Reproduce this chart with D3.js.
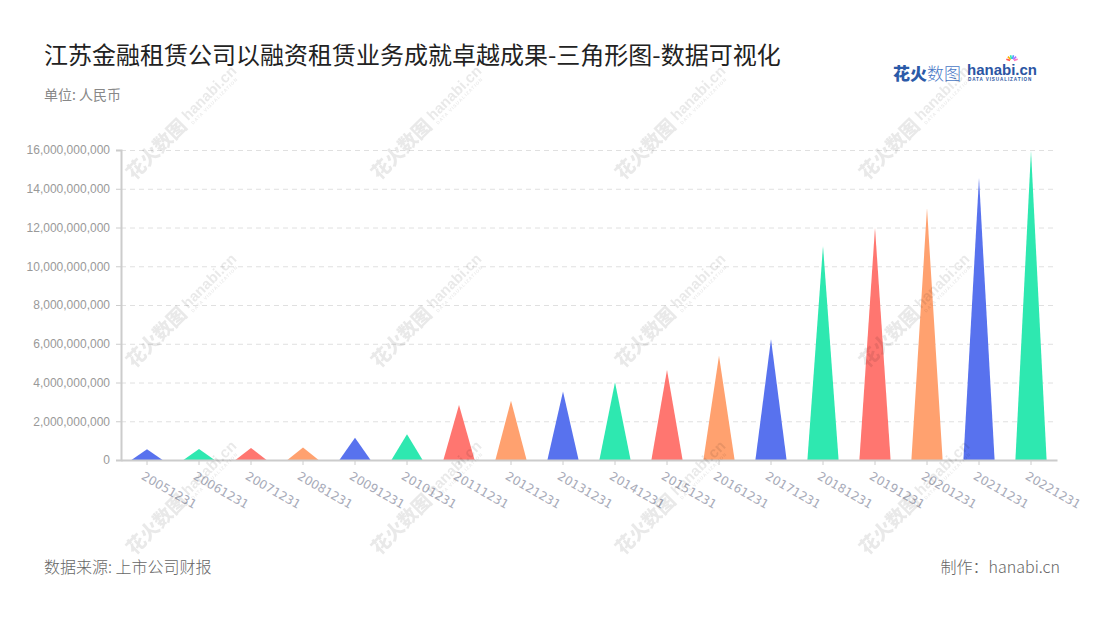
<!DOCTYPE html>
<html><head><meta charset="utf-8">
<script src="https://cdn.jsdelivr.net/npm/d3@7/dist/d3.min.js"></script>
<style>body{margin:0;background:#fff}svg{display:block}</style>
</head><body><svg id="c" width="1100" height="620"></svg>
<script>
const categories = ["20051231","20061231","20071231","20081231","20091231","20101231","20111231","20121231","20131231","20141231","20151231","20161231","20171231","20181231","20191231","20201231","20211231","20221231"];
const values = [550000000,570000000,620000000,650000000,1150000000,1330000000,2840000000,3060000000,3530000000,4010000000,4650000000,5380000000,6230000000,11050000000,11990000000,12990000000,14570000000,15960000000];
const yTicks = [0,2000000000,4000000000,6000000000,8000000000,10000000000,12000000000,14000000000,16000000000];
const palette = ["#5872ee","#2ee8b0","#ff7670","#ffa16f"];
const titleText = "江苏金融租赁公司以融资租赁业务成就卓越成果-三角形图-数据可视化";
const unitText = "单位: 人民币";
const sourceText = "数据来源: 上市公司财报";
const makerText = "制作：hanabi.cn";

const svg = d3.select("#c");
const L = 121, R = 1057, T = 150, B = 460;
const x = d3.scaleBand().domain(categories).range([L, R]);
const y = d3.scaleLinear().domain([0, 16000000000]).range([B, T]);

// title
svg.append("text").attr("x",44).attr("y",64).attr("font-family","'Noto Sans CJK SC'").attr("font-size",24).attr("fill","#222").text(titleText);
svg.append("text").attr("x",44).attr("y",100).attr("font-family","'Noto Sans CJK SC'").attr("font-size",14).attr("fill","#888").text(unitText);

// grid
svg.append("g").selectAll("line").data(yTicks.slice(1)).join("line")
  .attr("x1",L).attr("x2",R).attr("y1",d=>y(d)+0.5).attr("y2",d=>y(d)+0.5)
  .attr("stroke","#e0e0e0").attr("stroke-dasharray","5,4");

// y axis
const yAxis = svg.append("g").attr("transform",`translate(${L},0)`)
  .call(d3.axisLeft(y).tickValues(yTicks).tickSize(5).tickPadding(6).tickFormat(d3.format(",")));
yAxis.select(".domain").attr("stroke","#ccc").attr("stroke-width",2);
yAxis.selectAll(".tick line").attr("stroke","#ccc");
yAxis.selectAll("text").attr("font-family","'Liberation Sans'").attr("font-size",12).attr("fill","#999");

// triangles
const w = x.bandwidth()*0.6;
svg.append("g").selectAll("path").data(categories).join("path")
  .attr("d",(c,i)=>{const cx=x(c)+x.bandwidth()/2;return `M${cx-w/2},${y(0)}L${cx},${y(values[i])}L${cx+w/2},${y(0)}Z`;})
  .attr("fill",(c,i)=>palette[i%4]);

// x axis
const xAxis = svg.append("g").attr("transform",`translate(0,${B})`)
  .call(d3.axisBottom(x).tickSize(5).tickSizeOuter(0));
xAxis.select(".domain").attr("stroke","#ccc").attr("stroke-width",2);
xAxis.selectAll(".tick line").attr("stroke","#ccc");
xAxis.selectAll("text").attr("font-family","'DejaVu Sans'").attr("font-size",12).attr("fill","#a8abb9")
  .attr("text-anchor","start").attr("dy",null).attr("y",null)
  .attr("transform","translate(-2,11) rotate(30)").attr("dominant-baseline","hanging");

// footer
svg.append("text").attr("x",44).attr("y",573).attr("font-family","'Noto Sans CJK SC'").attr("font-weight",300).attr("font-size",16).attr("fill","#666").text(sourceText);
svg.append("text").attr("x",1060).attr("y",573).attr("text-anchor","end").attr("font-family","'Noto Sans CJK SC'").attr("font-weight",300).attr("font-size",16).attr("fill","#666").text(makerText);

// logo
const lg = svg.append("g");
lg.append("text").attr("x",893).attr("y",80).attr("font-family","'Noto Sans CJK SC'").attr("font-weight",900).attr("font-size",17).attr("fill","#2b5aa8").text("花火");
lg.append("text").attr("x",927).attr("y",80).attr("font-family","'Noto Sans CJK SC'").attr("font-weight",300).attr("font-size",17).attr("fill","#4a78c6").text("数图");
lg.append("text").attr("x",967).attr("y",75).attr("font-family","'Liberation Sans'").attr("font-weight",700).attr("font-size",15).attr("fill","#2b55a3").text("hanabi.cn");
lg.append("text").attr("x",968).attr("y",81).attr("font-family","'Liberation Sans'").attr("font-weight",700).attr("font-size",4.6).attr("letter-spacing",0.9).attr("fill","#2b55a3").text("DATA VISUALIZATION");
const burst = ["#ff5a5a","#ffb000","#2ee8b0","#4a9cff","#b06cff","#ff7ac0"];
burst.forEach((c,i)=>{const a=-Math.PI*0.9+i*Math.PI*0.8/5;lg.append("line").attr("x1",1012+Math.cos(a)*2).attr("y1",61+Math.sin(a)*2).attr("x2",1012+Math.cos(a)*6).attr("y2",61+Math.sin(a)*6).attr("stroke",c).attr("stroke-width",1.6);});

// watermarks
const wmX = [183,428,672,916], wmY = [122,310,497];
const wm = svg.append("g").attr("opacity",0.09);
wmY.forEach(yy=>wmX.forEach(xx=>{
  const g = wm.append("g").attr("transform",`translate(${xx},${yy}) rotate(-45)`);
  g.append("text").attr("x",-76).attr("y",7).attr("font-family","'Noto Sans CJK SC'").attr("font-weight",900).attr("font-size",19).attr("fill","#000").text("花火数图");
  g.append("text").attr("x",4).attr("y",3).attr("font-family","'Liberation Sans'").attr("font-weight",700).attr("font-size",15).attr("fill","#000").text("hanabi.cn");
  g.append("text").attr("x",5).attr("y",9).attr("font-family","'Liberation Sans'").attr("font-weight",700).attr("font-size",4.6).attr("letter-spacing",0.9).attr("fill","#000").text("DATA VISUALIZATION");
}));
</script></body></html>
